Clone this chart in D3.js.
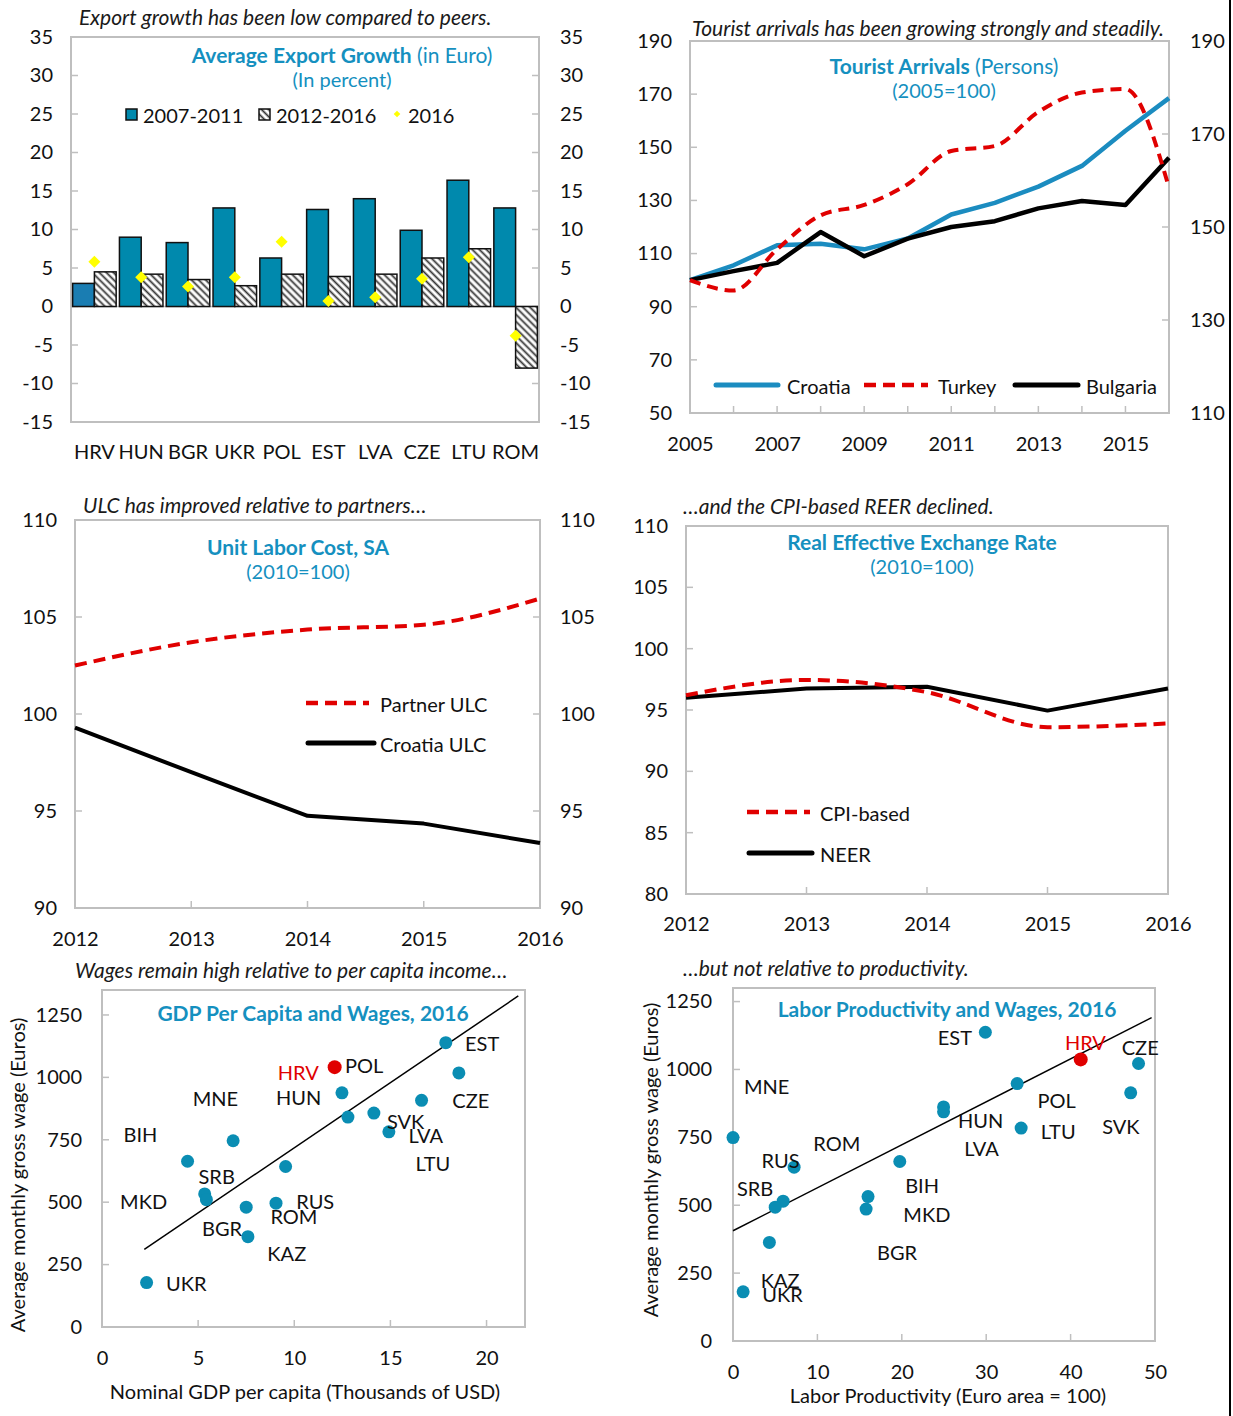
<!DOCTYPE html>
<html><head><meta charset="utf-8">
<script src="https://cdn.jsdelivr.net/npm/d3@7"></script>
<style>body{margin:0;background:#fff;} svg{display:block;} text{font-family:Lato,"Open Sans",sans-serif;}</style>
</head><body><svg id="c" width="1233" height="1416"></svg>
<script>
// ---------------- DATA ----------------
const exportCats = ["HRV","HUN","BGR","UKR","POL","EST","LVA","CZE","LTU","ROM"];
const exp0711 = [3.0, 9.0, 8.3, 12.8, 6.3, 12.6, 14.0, 9.9, 16.4, 12.8];
const exp1216 = [4.5, 4.2, 3.5, 2.7, 4.2, 3.9, 4.2, 6.3, 7.5, -8.0];
const exp2016 = [5.8, 3.8, 2.6, 3.8, 8.4, 0.7, 1.2, 3.6, 6.4, -3.8];
const exportTicks = [-15,-10,-5,0,5,10,15,20,25,30,35];

const touristYears = [2005,2006,2007,2008,2009,2010,2011,2012,2013,2014,2015,2016];
const touristCroatia  = [100, 105.6, 113.1, 113.7, 111.6, 115.7, 124.7, 129.1, 135.2, 143.0, 156.2, 168.5];
const touristTurkey   = [100, 96.1, 111.6, 124.4, 128.3, 136.1, 148.6, 150.5, 163.3, 170.6, 171.9, 134.8];
const touristBulgaria = [100, 103.4, 106.5, 118.1, 109.0, 115.6, 120.0, 122.2, 127.0, 129.8, 128.3, 146.1];
const touristTicksL = [50,70,90,110,130,150,170,190];
const touristTicksR = [110,130,150,170,190];
const touristTickLabelYears = [2005,2007,2009,2011,2013,2015];

const ulcYears = [2012,2013,2014,2015,2016];
const partnerULC = [102.5, 103.7, 104.35, 104.6, 105.95];
const croatiaULC = [99.3, 97.0, 94.75, 94.35, 93.35];
const ulcTicks = [90,95,100,105,110];

const reerYears = [2012,2013,2014,2015,2016];
const cpiBased = [96.2, 97.45, 96.45, 93.6, 93.9];
const neer = [96.0, 96.75, 96.9, 94.95, 96.75];
const reerTicks = [80,85,90,95,100,105,110];

const gdpX = [2.32, 4.45, 6.82, 5.34, 5.43, 7.5, 7.59, 9.05, 9.55, 12.1, 12.48, 12.79, 14.14, 14.92, 16.62, 17.88, 18.56];
const gdpY = [178, 664, 746, 533, 510, 480, 362, 496, 643, 1041, 938, 841, 857, 782, 908, 1139, 1018];
const gdpHighlight = [false,false,false,false,false,false,false,false,false,true,false,false,false,false,false,false,false];
const gdpLabels  = ["EST","POL","HRV","CZE","MNE","HUN","BIH","SVK","LVA","LTU","SRB","MKD","RUS","ROM","BGR","KAZ","UKR"];
const gdpLabelX  = [18.88,12.64,9.14,18.22,4.72,9.05,1.12,14.82,15.94,16.3,5.02,0.94,10.1,8.76,5.2,8.6,3.33];
const gdpLabelY  = [1139,1049,1020,911,918,922,774,824,768,656,604,504,504,443,397,296,176];
const gdpTrendX = [2.2, 21.65];
const gdpTrendY = [311, 1326];
const gdpXTicks = [0,5,10,15,20];
const wageTicks = [0,250,500,750,1000,1250];

const prodX = [29.9, 41.2, 48.05, 33.67, 47.12, 24.95, 24.95, 34.14, 0, 19.76, 7.24, 5.94, 5.0, 16.0, 15.77, 4.31, 1.2];
const prodY = [1137, 1037, 1022, 948, 914, 862, 844, 784, 749, 661, 640, 515, 493, 532, 486, 363, 181];
const prodHighlight = [false,true,false,false,false,false,false,false,false,false,false,false,false,false,false,false,false];
const prodLabels = ["EST","HRV","CZE","MNE","POL","HUN","LTU","SVK","ROM","LVA","RUS","SRB","BIH","MKD","BGR","KAZ","UKR"];
const prodLabelX = [24.26,39.33,46.06,1.3,36.09,26.67,36.46,43.74,9.51,27.41,3.39,0.46,20.4,20.18,17.07,3.29,3.48];
const prodLabelY = [1118,1102,1081,938,889,815,772,791,731,712,665,564,573,466,329,224,172];
const prodTrendX = [0, 49.6];
const prodTrendY = [406, 1191];
const prodXTicks = [0,10,20,30,40,50];

// ---------------- STYLE ----------------
const TEAL = "#0089ad", TEAL_TXT = "#1590bf", RED = "#e00000", FRAME = "#bfbfbf", INK = "#111";
const FS = 20, TS = 21, SUBS = 21;
const fmt = d => String(d);
const svg = d3.select("#c");
const defs = svg.append("defs");
const pat = defs.append("pattern").attr("id","hatch").attr("patternUnits","userSpaceOnUse")
  .attr("width",5).attr("height",5).attr("patternTransform","rotate(-45)");
pat.append("rect").attr("width",5).attr("height",5).attr("fill","#fff");
pat.append("line").attr("x1",2.5).attr("y1",0).attr("x2",2.5).attr("y2",5).attr("stroke","#333").attr("stroke-width",1.8);

function text(g,x,y,s,o={}) {
  const t = g.append("text").attr("x",x).attr("y",y).attr("font-size",o.size||FS)
    .attr("fill",o.fill||INK).attr("text-anchor",o.anchor||"start").attr("dominant-baseline","central");
  if (o.italic) t.attr("font-style","italic");
  if (o.bold) t.attr("font-weight","bold");
  if (o.rotate) t.attr("transform",`rotate(${o.rotate},${x},${y})`);
  t.text(s);
  return t;
}
function titleBlock(g,cx,y,bold,rest,sub) {
  const t = g.append("text").attr("x",cx).attr("y",y).attr("text-anchor","middle").attr("dominant-baseline","central")
    .attr("font-size",TS).attr("fill",TEAL_TXT);
  t.append("tspan").attr("font-weight","bold").text(bold);
  if (rest) t.append("tspan").text(rest);
  if (sub) text(g,cx,y+25,sub,{anchor:"middle",fill:TEAL_TXT,size:20});
}
function subtitle(g,x,y,s){ return text(g,x,y,s,{italic:true,size:SUBS,fill:"#1a1a1a"}); }
function frame(g,P){ g.append("rect").attr("x",P.l).attr("y",P.t).attr("width",P.r-P.l).attr("height",P.b-P.t)
  .attr("fill","none").attr("stroke",FRAME).attr("stroke-width",2); }
function styleAxis(sel){ sel.select(".domain").remove(); sel.selectAll("text").attr("font-size",FS).attr("fill",INK).attr("font-family","Lato"); }
function axisL(g,scale,vals,x,pad){ g.append("g").attr("transform",`translate(${x},0)`)
  .call(d3.axisLeft(scale).tickValues(vals).tickFormat(fmt).tickSize(0).tickPadding(pad)).call(styleAxis); }
function axisR(g,scale,vals,x,pad){ g.append("g").attr("transform",`translate(${x},0)`)
  .call(d3.axisRight(scale).tickValues(vals).tickFormat(fmt).tickSize(0).tickPadding(pad)).call(styleAxis); }
function axisB(g,scale,vals,y,pad,f){ const a=d3.axisBottom(scale).tickSize(0).tickPadding(pad);
  if(vals) a.tickValues(vals); if(f) a.tickFormat(f);
  g.append("g").attr("transform",`translate(0,${y})`).call(a).call(styleAxis); }
function hTicks(g,scale,vals,x,len){ g.selectAll(null).data(vals).enter().append("line")
  .attr("x1",x).attr("x2",x+len).attr("y1",d=>scale(d)).attr("y2",d=>scale(d)).attr("stroke",FRAME).attr("stroke-width",1.5); }
function vTicks(g,scale,vals,y,len){ g.selectAll(null).data(vals).enter().append("line")
  .attr("y1",y).attr("y2",y-len).attr("x1",d=>scale(d)).attr("x2",d=>scale(d)).attr("stroke",FRAME).attr("stroke-width",1.5); }
function series(g,xs,ys,X,Y,o){ const line=d3.line().x((d,i)=>X(xs[i])).y(d=>Y(d)).curve(o.curve||d3.curveLinear);
  g.append("path").attr("d",line(ys)).attr("fill","none").attr("stroke",o.color).attr("stroke-width",o.width||4)
   .attr("stroke-dasharray",o.dash||null).attr("stroke-linejoin","round"); }
function legLine(g,x1,x2,y,o){ g.append("line").attr("x1",x1).attr("x2",x2).attr("y1",y).attr("y2",y)
  .attr("stroke",o.color).attr("stroke-width",o.width||5).attr("stroke-dasharray",o.dash||null).attr("stroke-linecap",o.dash?"butt":"round"); }

// ---------------- PANEL 1: Export growth ----------------
{
  const g = svg.append("g");
  const P = {l:71, r:539, t:37, b:422};
  const x = d3.scaleBand().domain(exportCats).range([P.l,P.r]).paddingInner(0.07).paddingOuter(0.035);
  const xs = d3.scaleBand().domain(["a","b"]).range([0,x.bandwidth()]);
  const y = d3.scaleLinear().domain([-15,35]).range([P.b,P.t]);
  frame(g,P);
  hTicks(g,y,exportTicks.slice(1,-1),P.l,7); hTicks(g,y,exportTicks.slice(1,-1),P.r-7,7);
  g.append("line").attr("x1",P.l).attr("x2",P.r).attr("y1",y(0)).attr("y2",y(0)).attr("stroke",FRAME).attr("stroke-width",1.5);
  exportCats.forEach((c,i)=>{
    const v1=exp0711[i], v2=exp1216[i];
    g.append("rect").attr("x",x(c)+xs("a")).attr("width",xs.bandwidth()).attr("y",y(Math.max(0,v1)))
      .attr("height",Math.abs(y(v1)-y(0))).attr("fill",i===0?"#1a7db2":TEAL).attr("stroke",INK).attr("stroke-width",1.5);
    g.append("rect").attr("x",x(c)+xs("b")).attr("width",xs.bandwidth()).attr("y",y(Math.max(0,v2)))
      .attr("height",Math.abs(y(v2)-y(0))).attr("fill","url(#hatch)").attr("stroke",INK).attr("stroke-width",1.5);
  });
  g.selectAll(null).data(exp2016).enter().append("path")
    .attr("d",d3.symbol(d3.symbolSquare,72)())
    .attr("transform",(d,i)=>`translate(${x(exportCats[i])+x.bandwidth()/2},${y(d)}) rotate(45)`)
    .attr("fill","#ffff00");
  axisL(g,y,exportTicks,P.l,18);
  axisR(g,y,exportTicks,P.r,21);
  axisB(g,x,null,P.b,23);
  subtitle(g,79,16,"Export growth has been low compared to peers.");
  titleBlock(g,342,54,"Average Export Growth"," (in Euro)","(In percent)");
  // legend
  g.append("rect").attr("x",126).attr("y",109).attr("width",11).attr("height",11).attr("fill",TEAL).attr("stroke",INK).attr("stroke-width",1.5);
  text(g,143,115,"2007-2011");
  g.append("rect").attr("x",259).attr("y",109).attr("width",11).attr("height",11).attr("fill","url(#hatch)").attr("stroke",INK).attr("stroke-width",1.5);
  text(g,276,115,"2012-2016");
  g.append("path").attr("d",d3.symbol(d3.symbolSquare,22)()).attr("transform","translate(397,114) rotate(45)").attr("fill","#ffff00");
  text(g,408,115,"2016");
}

// ---------------- PANEL 2: Tourist arrivals ----------------
{
  const g = svg.append("g");
  const P = {l:690, r:1169, t:41, b:413};
  const x = d3.scaleLinear().domain([2005,2016]).range([P.l,P.r]);
  const y = d3.scaleLinear().domain([50,190]).range([P.b,P.t]);
  const yr = d3.scaleLinear().domain([110,190]).range([P.b,P.t]);
  frame(g,P);
  hTicks(g,y,touristTicksL.slice(1,-1),P.l,7);
  hTicks(g,yr,touristTicksR.slice(1,-1),P.r-7,7);
  vTicks(g,x,touristYears.slice(1,-1),P.b,7);
  axisL(g,y,touristTicksL,P.l,18);
  axisR(g,yr,touristTicksR,P.r,21);
  axisB(g,x,touristTickLabelYears,P.b,24,fmt);
  series(g,touristYears,touristCroatia,x,y,{color:"#1b8cc0",width:4.5});
  series(g,touristYears,touristBulgaria,x,y,{color:"#000",width:4.5});
  series(g,touristYears,touristTurkey,x,y,{color:RED,width:4,dash:"11,7",curve:d3.curveMonotoneX});
  subtitle(g,692,27,"Tourist arrivals has been growing strongly and steadily.");
  titleBlock(g,944,65,"Tourist Arrivals"," (Persons)","(2005=100)");
  legLine(g,716,778,385,{color:"#1b8cc0"}); text(g,787,386,"Croatia");
  legLine(g,864,928,385,{color:RED,dash:"12,7",width:4.5}); text(g,938,386,"Turkey");
  legLine(g,1015,1078,385,{color:"#000"}); text(g,1086,386,"Bulgaria");
}

// ---------------- PANEL 3: ULC ----------------
{
  const g = svg.append("g");
  const P = {l:75, r:540, t:520, b:908};
  const x = d3.scaleLinear().domain([2012,2016]).range([P.l,P.r]);
  const y = d3.scaleLinear().domain([90,110]).range([P.b,P.t]);
  frame(g,P);
  hTicks(g,y,ulcTicks.slice(1,-1),P.l,7); hTicks(g,y,ulcTicks.slice(1,-1),P.r-7,7);
  vTicks(g,x,ulcYears.slice(1,-1),P.b,7);
  axisL(g,y,ulcTicks,P.l,18);
  axisR(g,y,ulcTicks,P.r,20);
  axisB(g,x,ulcYears,P.b,24,fmt);
  series(g,ulcYears,croatiaULC,x,y,{color:"#000",width:4});
  series(g,ulcYears,partnerULC,x,y,{color:RED,width:4,dash:"12,7",curve:d3.curveMonotoneX});
  subtitle(g,83,504,"ULC has improved relative to partners\u2026");
  titleBlock(g,298,546,"Unit Labor Cost, SA",null,"(2010=100)");
  legLine(g,306,369,703,{color:RED,dash:"12,7",width:4.5}); text(g,380,704,"Partner ULC");
  legLine(g,308,374,743,{color:"#000"}); text(g,380,744,"Croatia ULC");
}

// ---------------- PANEL 4: REER ----------------
{
  const g = svg.append("g");
  const P = {l:686, r:1168, t:526, b:894};
  const x = d3.scaleLinear().domain([2012,2016]).range([P.l,P.r]);
  const y = d3.scaleLinear().domain([80,110]).range([P.b,P.t]);
  frame(g,P);
  hTicks(g,y,reerTicks.slice(1,-1),P.l,7);
  vTicks(g,x,reerYears.slice(1,-1),P.b,7);
  axisL(g,y,reerTicks,P.l,18);
  axisB(g,x,reerYears,P.b,23,fmt);
  series(g,reerYears,neer,x,y,{color:"#000",width:4});
  series(g,reerYears,cpiBased,x,y,{color:RED,width:4,dash:"12,7",curve:d3.curveMonotoneX});
  subtitle(g,683,505,"\u2026and the CPI-based REER declined.");
  titleBlock(g,922,541,"Real Effective Exchange Rate",null,"(2010=100)");
  legLine(g,747,810,812,{color:RED,dash:"12,7",width:4.5}); text(g,820,813,"CPI-based");
  legLine(g,749,812,853,{color:"#000"}); text(g,820,854,"NEER");
}

// ---------------- PANEL 5: GDP per capita vs wages ----------------
{
  const g = svg.append("g");
  const P = {l:102, r:525, t:990, b:1327};
  const x = d3.scaleLinear().domain([0,22]).range([P.l,P.r]);
  const y = d3.scaleLinear().domain([0,1350]).range([P.b,P.t]);
  frame(g,P);
  hTicks(g,y,wageTicks.slice(1),P.l,7);
  vTicks(g,x,gdpXTicks.slice(1),P.b,7);
  axisL(g,y,wageTicks,P.l,20);
  axisB(g,x,gdpXTicks,P.b,24,fmt);
  g.append("line").attr("x1",x(gdpTrendX[0])).attr("y1",y(gdpTrendY[0])).attr("x2",x(gdpTrendX[1])).attr("y2",y(gdpTrendY[1]))
    .attr("stroke","#000").attr("stroke-width",1.5);
  g.selectAll(null).data(gdpX).enter().append("circle").attr("cx",d=>x(d)).attr("cy",(d,i)=>y(gdpY[i]))
    .attr("r",(d,i)=>gdpHighlight[i]?7:6.5).attr("fill",(d,i)=>gdpHighlight[i]?RED:"#0a8db3");
  gdpLabels.forEach((s,i)=>text(g,x(gdpLabelX[i]),y(gdpLabelY[i]),s,{fill:s==="HRV"?RED:INK}));
  subtitle(g,75,969,"Wages remain high relative to per capita income\u2026");
  titleBlock(g,313,1012,"GDP Per Capita and Wages, 2016",null,null);
  text(g,17,1175,"Average monthly gross wage (Euros)",{anchor:"middle",rotate:-90,size:20});
  text(g,305,1391,"Nominal GDP per capita (Thousands of USD)",{anchor:"middle",size:20});
}

// ---------------- PANEL 6: Productivity vs wages ----------------
{
  const g = svg.append("g");
  const P = {l:733, r:1155, t:988, b:1341};
  const x = d3.scaleLinear().domain([0,50]).range([P.l,P.r]);
  const y = d3.scaleLinear().domain([0,1300]).range([P.b,P.t]);
  frame(g,P);
  hTicks(g,y,wageTicks.slice(1),P.l,7);
  vTicks(g,x,prodXTicks.slice(1,-1),P.b,7);
  axisL(g,y,wageTicks,P.l,21);
  axisB(g,x,prodXTicks,P.b,24,fmt);
  g.append("line").attr("x1",x(prodTrendX[0])).attr("y1",y(prodTrendY[0])).attr("x2",x(prodTrendX[1])).attr("y2",y(prodTrendY[1]))
    .attr("stroke","#000").attr("stroke-width",1.5);
  g.selectAll(null).data(prodX).enter().append("circle").attr("cx",d=>x(d)).attr("cy",(d,i)=>y(prodY[i]))
    .attr("r",(d,i)=>prodHighlight[i]?7:6.5).attr("fill",(d,i)=>prodHighlight[i]?RED:"#0a8db3");
  prodLabels.forEach((s,i)=>text(g,x(prodLabelX[i]),y(prodLabelY[i]),s,{fill:s==="HRV"?RED:INK}));
  subtitle(g,683,967,"\u2026but not relative to productivity.");
  titleBlock(g,947,1008,"Labor Productivity and Wages, 2016",null,null);
  text(g,650,1160,"Average monthly gross wage (Euros)",{anchor:"middle",rotate:-90,size:20});
  text(g,948,1395,"Labor Productivity (Euro area = 100)",{anchor:"middle",size:20});
}

// right edge rule
svg.append("line").attr("x1",1230).attr("x2",1230).attr("y1",0).attr("y2",1416).attr("stroke","#000").attr("stroke-width",2);
</script></body></html>
